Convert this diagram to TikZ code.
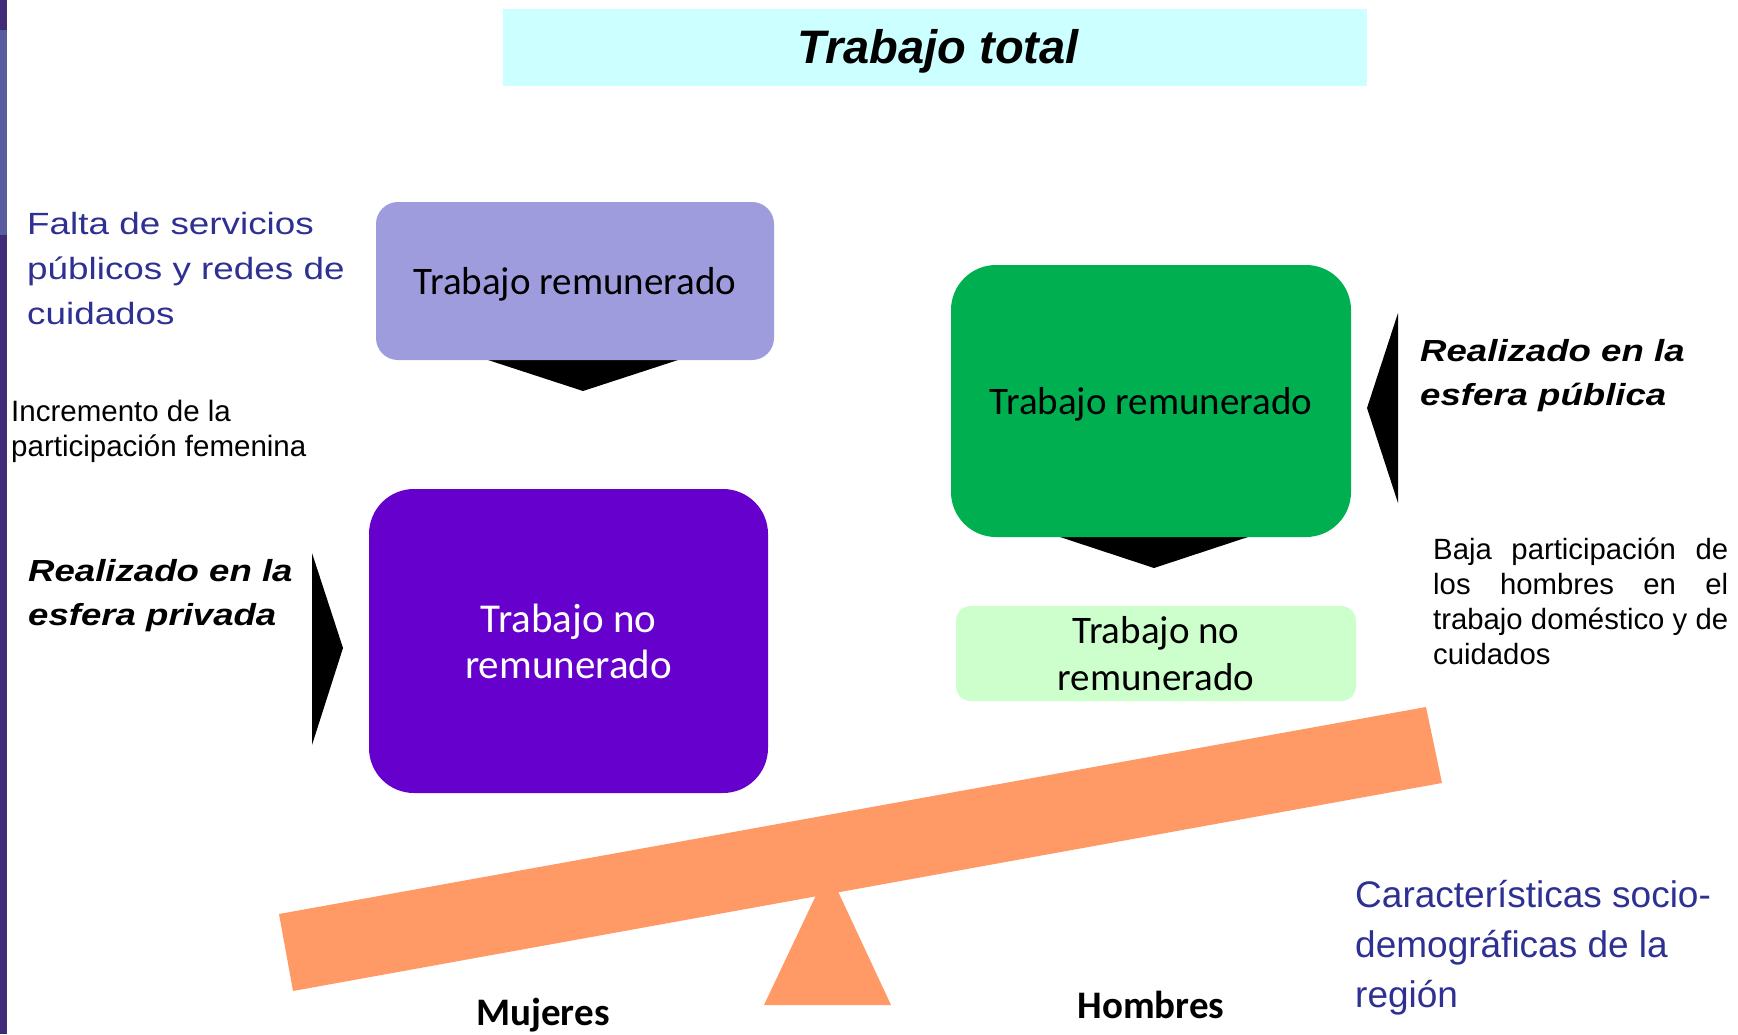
\documentclass[tikz,border=0pt]{standalone}
\usepackage{fontspec}
\setmainfont{Liberation Sans}
\newfontfamily\anchasans{Liberation Sans}[FakeStretch=1.2]
\newfontfamily\calibri{Carlito}
\definecolor{franja}{HTML}{402B78}
\definecolor{franjaclara}{HTML}{585C9C}
\definecolor{cian}{HTML}{CCFFFF}
\definecolor{lavanda}{HTML}{9E9CDD}
\definecolor{morado}{HTML}{6600CC}
\definecolor{verde}{HTML}{00B050}
\definecolor{verdeclaro}{HTML}{CCFFCC}
\definecolor{salmon}{HTML}{FF9966}
\definecolor{azultexto}{HTML}{2E3192}
\tikzset{
  caja/.style={rectangle,inner sep=0pt,align=center,font=\calibri\fontsize{39}{46}\selectfont},
  nota/.style={anchor=base west,inner sep=0pt,align=left},
  pico/.style={fill=black},
}

\begin{document}
\begin{tikzpicture}[x=1pt,y=-1pt]
	\useasboundingbox (0,0) rectangle (1738,1034);
	\fill[white] (0,0) rectangle (1738,1034);
	% franja del borde
	\fill[franja] (0,0) rectangle (7,1034);
	\fill[franjaclara] (0,30) rectangle (7,235);

	% titulo
	\fill[cian] (503,9) rectangle (1367,86);
	\node[anchor=base,inner sep=0pt,font=\fontsize{47}{56}\selectfont\bfseries\itshape] (titulo) at (938,63) {Trabajo total};

	% mujeres
	\fill[pico] (488,360) -- (678,360) -- (583,391) -- cycle;
	\node[caja,fill=lavanda,rounded corners=22pt,minimum width=398pt,minimum height=158pt,text depth=0pt] (remM) at (575,281) {Trabajo remunerado};
	\node[caja,fill=morado,text=white,rounded corners=45pt,minimum width=399pt,minimum height=304pt,font=\calibri\fontsize{41}{46}\selectfont] (noremM) at (568.5,641) {Trabajo no\\remunerado};
	\fill[pico] (312,553) -- (343,648) -- (312,745) -- cycle;

	% hombres
	\fill[pico] (1060,537) -- (1248,537) -- (1154,568) -- cycle;
	\node[caja,fill=verde,rounded corners=45pt,minimum width=400pt,minimum height=272pt,text depth=0pt] (remH) at (1151,401) {Trabajo remunerado};
	\node[caja,fill=verdeclaro,rounded corners=15pt,minimum width=400pt,minimum height=95pt,font=\calibri\fontsize{39}{47}\selectfont] (noremH) at (1156,653.5) {Trabajo no\\remunerado};
	\fill[pico] (1398,313) -- (1367,408) -- (1398,503) -- cycle;

	% balanza
	\fill[salmon] (764,1005) -- (891,1005) -- (828,870) -- cycle;
	\fill[salmon] (279,914) -- (1426,707) -- (1442,783) -- (293,991) -- cycle;
	\node[anchor=base,inner sep=0pt,font=\calibri\bfseries\fontsize{39}{46}\selectfont] (mujeres) at (543,1025) {Mujeres};
	\node[anchor=base,inner sep=0pt,font=\calibri\bfseries\fontsize{39}{46}\selectfont] (hombres) at (1151,1018) {Hombres};

	% textos laterales (base = ultima linea)
	\node[nota,text=azultexto,font=\anchasans\fontsize{30.7}{45}\selectfont] (falta) at (27,324) {Falta de servicios\\públicos y redes de\\cuidados};
	\node[nota,font=\fontsize{29.5}{35}\selectfont] (incremento) at (11,456.5) {Incremento de la\\participación femenina};
	\node[nota,font=\anchasans\fontsize{30.5}{44}\selectfont\bfseries\itshape] (privada) at (28,625.5) {Realizado en la\\esfera privada};
	\node[nota,font=\anchasans\fontsize{30.5}{44}\selectfont\bfseries\itshape] (publica) at (1420,405) {Realizado en la\\esfera pública};
	\node[nota,text width=295pt,align=justify,font=\fontsize{29.3}{35}\selectfont] (baja) at (1433,559) {\hbadness=10000 Baja participación de\linebreak los hombres en el\linebreak trabajo doméstico y de\linebreak cuidados};
	\node[nota,text=azultexto,font=\fontsize{37}{50}\selectfont] (caract) at (1355,1007) {Características socio-\\demográficas de la\\región};
\end{tikzpicture}
\end{document}
